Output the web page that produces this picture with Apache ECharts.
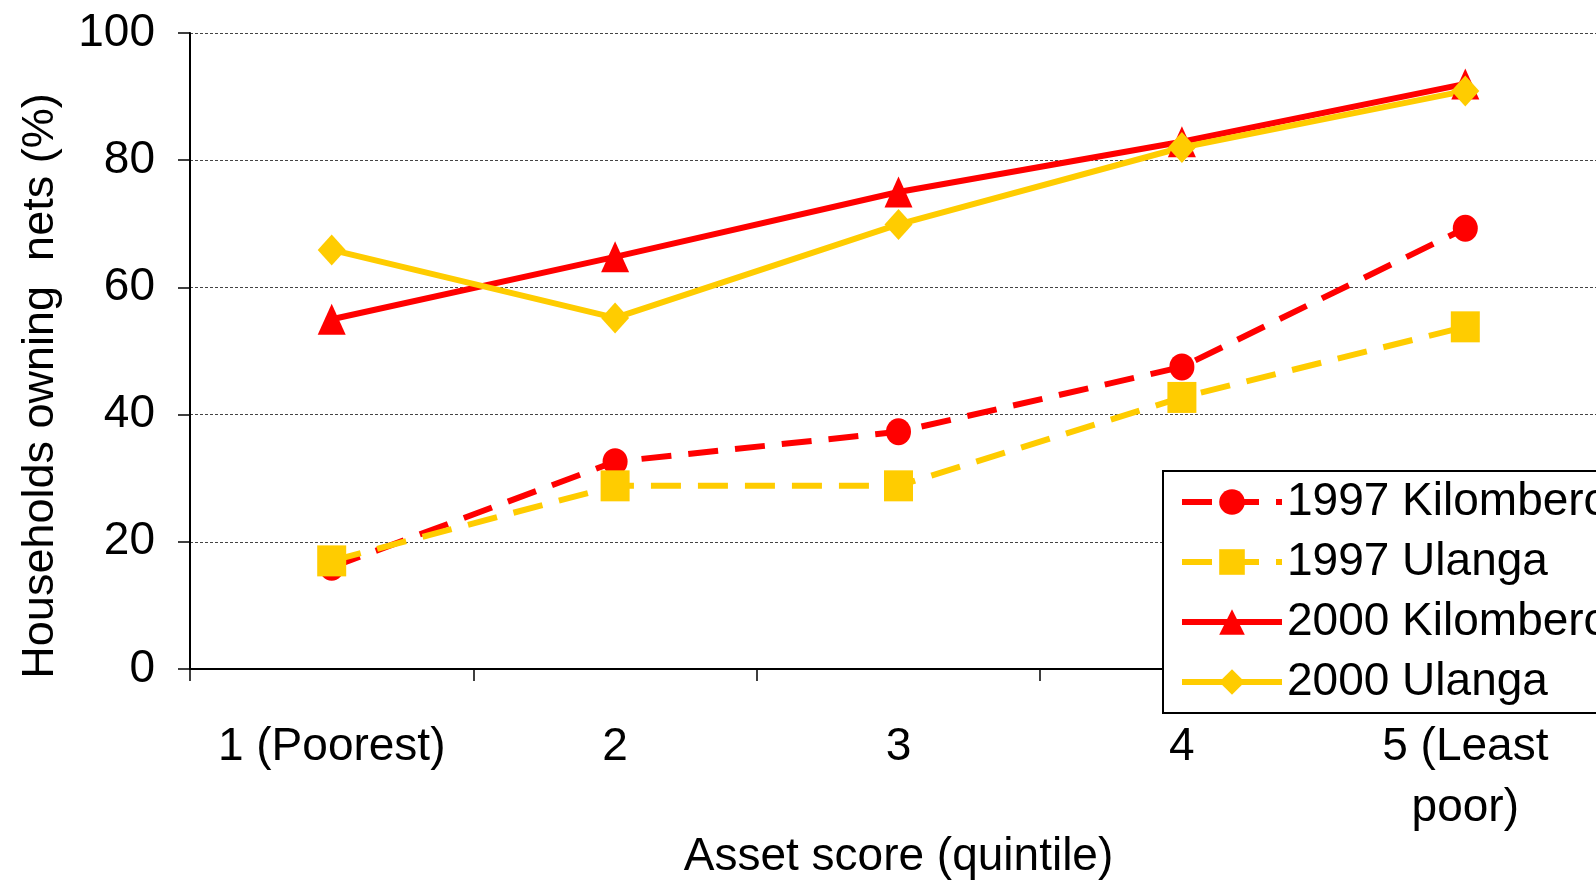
<!DOCTYPE html>
<html>
<head>
<meta charset="utf-8">
<script src="https://cdn.jsdelivr.net/npm/echarts@6/dist/echarts.min.js"></script>
<style>
html,body{margin:0;padding:0;background:#fff;}
#c{width:1596px;height:880px;}
</style>
</head>
<body>
<div id="c"></div>
<script>
const categories = ['1 (Poorest)', '2', '3', '4', '5 (Least\npoor)'];
const yTicks = [0, 20, 40, 60, 80, 100];
const kilombero1997 = [16, 32.6, 37.3, 47.5, 69.3];
const ulanga1997 = [17, 28.8, 28.8, 42.7, 53.8];
const kilombero2000 = [55, 64.8, 75, 82.9, 92];
const ulanga2000 = [65.9, 55.2, 69.9, 82, 90.9];
const seriesNames = ['1997 Kilombero', '1997 Ulanga', '2000 Kilombero', '2000 Ulanga'];

const RED = '#FF0000', YEL = '#FFCC00';
const FONT = 'Liberation Sans, Arial, sans-serif';

const chart = echarts.init(document.getElementById('c'), null, {renderer: 'canvas'});
function mk(name, data, color, symbol, size, dashed) {
  return {
    name: name, type: 'line', data: data,
    symbol: symbol, symbolSize: size,
    itemStyle: {color: color},
    lineStyle: {color: color, width: 6, type: dashed ? [30, 17] : 'solid', cap: 'butt'},
    emphasis: {disabled: true},
    animation: false
  };
}
chart.setOption({
  animation: false,
  backgroundColor: '#fff',
  textStyle: {fontFamily: FONT},
  grid: {left: 190, top: 33, width: 1417, height: 636, containLabel: false, outerBoundsMode: 'none'},
  legend: {
    orient: 'vertical', left: 1163, top: 471,
    data: seriesNames,
    itemWidth: 100, itemHeight: 32, itemGap: 12,
    padding: [7, 20, 7, 16],
    borderColor: '#000', borderWidth: 2, backgroundColor: '#fff',
    lineStyle: {width: 6},
    textStyle: {fontSize: 46, color: '#000', fontFamily: FONT, lineHeight: 48, padding: [0, 0, 0, 0]},
    selectedMode: false
  },
  xAxis: {
    type: 'category', data: categories, boundaryGap: true,
    name: 'Asset score (quintile)', nameLocation: 'middle', nameGap: 165,
    nameMoveOverlap: false,
    nameTextStyle: {fontSize: 46, color: '#000', fontFamily: FONT},
    axisLine: {lineStyle: {color: '#000', width: 2}},
    axisTick: {show: true, length: 12, alignWithLabel: false, lineStyle: {color: '#000', width: 1.5}},
    axisLabel: {fontSize: 46, color: '#000', margin: 48, lineHeight: 61, fontFamily: FONT, interval: 0},
    splitLine: {show: false}
  },
  yAxis: {
    type: 'value', min: 0, max: 100, interval: 20,
    axisLine: {show: true, lineStyle: {color: '#000', width: 2}},
    axisTick: {show: true, length: 12, lineStyle: {color: '#000', width: 1.5}},
    axisLabel: {fontSize: 46, color: '#000', margin: 35, fontFamily: FONT,
      formatter: function (v) { return yTicks.indexOf(v) >= 0 ? String(v) : ''; }},
    splitLine: {show: true, lineStyle: {color: '#444', width: 1, type: [3, 2]}}
  },
  graphic: [{
    type: 'text', x: 41, y: 386, rotation: Math.PI / 2,
    style: {text: 'Households owning  nets (%)', fontSize: 45, fill: '#000', fontFamily: FONT,
      align: 'center', verticalAlign: 'middle'}
  }],
  series: [
    mk(seriesNames[0], kilombero1997, RED, 'circle', [25, 27], true),
    mk(seriesNames[1], ulanga1997, YEL, 'rect', [29, 31], true),
    mk(seriesNames[2], kilombero2000, RED, 'triangle', [28, 31], false),
    mk(seriesNames[3], ulanga2000, YEL, 'diamond', [28, 31], false)
  ]
});
</script>
</body>
</html>
